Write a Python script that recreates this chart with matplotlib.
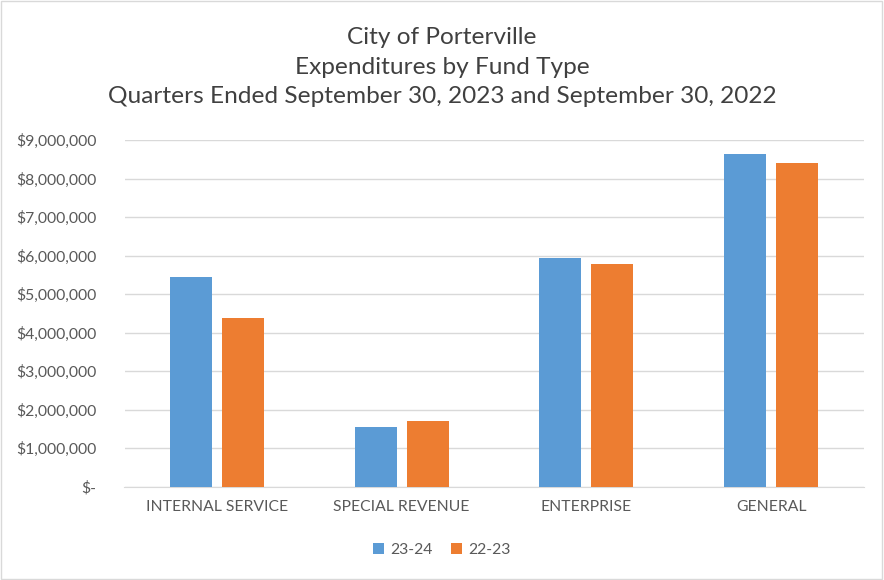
import matplotlib.pyplot as plt
import matplotlib.patches as patches
import matplotlib.ticker as mticker
import numpy as np

plt.rcParams['font.family'] = ['Lato', 'DejaVu Sans']

categorias = ['INTERNAL SERVICE', 'SPECIAL REVENUE', 'ENTERPRISE', 'GENERAL']
series = ['23-24', '22-23']
valores_2324 = [5440000, 1550000, 5940000, 8640000]
valores_2223 = [4380000, 1710000, 5780000, 8410000]
colores = ['#5B9BD5', '#ED7D31']
titulo = ("City of Porterville\nExpenditures by Fund Type\n"
          "Quarters Ended September 30, 2023 and September 30, 2022")

fig = plt.figure(figsize=(8.84, 5.8), dpi=100)
ax = fig.add_axes([124.5 / 884, (580 - 486.5) / 580, (863.5 - 124.5) / 884, (486.5 - 140) / 580])

x = np.arange(len(categorias))
ancho = 0.227
ax.bar(x - 0.141, valores_2324, ancho, color=colores[0], label=series[0], zorder=3)
ax.bar(x + 0.141, valores_2223, ancho, color=colores[1], label=series[1], zorder=3)

ax.set_xlim(-0.5, len(categorias) - 0.5)
ax.set_ylim(0, 9000000)
ax.set_yticks(np.arange(0, 9000001, 1000000))


def fmt_dolar(v, pos):
    if v == 0:
        return '$-'
    return '${:,.0f}'.format(v)


ax.yaxis.set_major_formatter(mticker.FuncFormatter(fmt_dolar))
ax.set_xticks(x)
ax.set_xticklabels(categorias)
ax.tick_params(axis='both', length=0, labelsize=11.3, labelcolor='#595959')
ax.tick_params(axis='x', pad=10)
ax.tick_params(axis='y', pad=20)

ax.grid(axis='y', color='#D9D9D9', linewidth=1, zorder=0)
for lado in ['top', 'right', 'left']:
    ax.spines[lado].set_visible(False)
ax.spines['bottom'].set_color('#D9D9D9')

fig.text(0.5, 1 - 67 / 580, titulo, ha='center', va='center', fontsize=17.6,
         color='#404040', linespacing=1.5)

fig.legend(loc='center', bbox_to_anchor=(0.5, 1 - 550 / 580), ncol=2, frameon=False,
           fontsize=11.3, labelcolor='#595959', handlelength=0.7, handleheight=0.7,
           columnspacing=1.2, handletextpad=0.4)

borde = patches.Rectangle((0.001, 0.001), 0.997, 0.997, transform=fig.transFigure,
                          fill=False, edgecolor='#D9D9D9', linewidth=1)
fig.patches.append(borde)

fig.savefig('out.png', dpi=100)
